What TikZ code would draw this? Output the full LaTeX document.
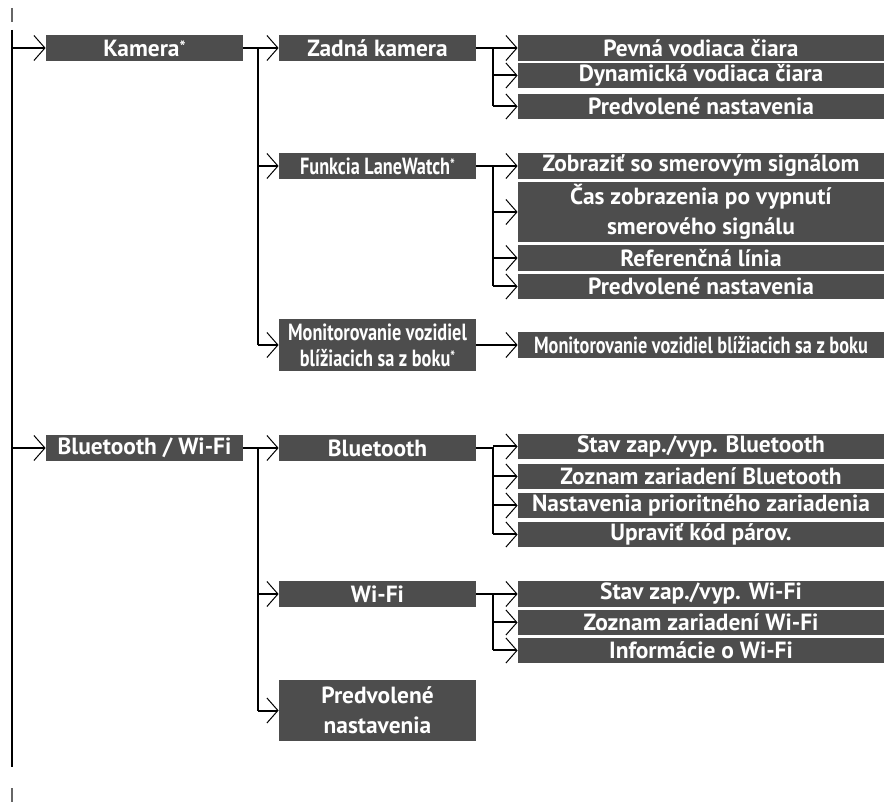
\documentclass[tikz,border=0pt]{standalone}
\usepackage{fontspec}
\setmainfont{PT Sans}
\newfontfamily\narrowsf[FakeStretch=0.78]{PT Sans}
\usetikzlibrary{arrows.meta}
\definecolor{boxgray}{HTML}{4D4D4D}
\newcommand\starmark{\raisebox{0.3ex}{\fontsize{8}{8}\selectfont*}}

\begin{document}
\begin{tikzpicture}[x=0.5pt, y=-0.5pt,
  font=\bfseries\fontsize{11.7}{15}\selectfont,
  menu/.style={fill=boxgray, text=white, inner sep=0pt, align=center},
  item/.style={menu, minimum width=98.5pt, minimum height=13pt},
  leaf/.style={menu, minimum width=183pt, minimum height=12.5pt},
  narrow/.style={font=\narrowsf\bfseries\fontsize{11.7}{13}\selectfont},
  wire/.style={line width=1pt},
  arr/.style={wire, -{Straight Barb[length=5.5pt, width=12.5pt, line width=0.5pt]}}]
  \useasboundingbox (0,0) rectangle (885,802);

  % first level
  \node[item] (kamera) at (144.5,48) {Kamera\starmark};
  \node[item] (btwifi) at (144.5,448) {Bluetooth / Wi-Fi};

  % second level
  \node[item] (zadna) at (377.5,48) {Zadná kamera};
  \node[item, narrow] (lanew) at (377.5,166) {Funkcia LaneWatch\starmark};
  \node[item, narrow, minimum height=26pt] (monitor) at (377.5,345) {Monitorovanie vozidiel\\blížiacich sa z boku\starmark};
  \node[item] (bt) at (377.5,448) {Bluetooth};
  \node[item] (wifi) at (377.5,594) {Wi-Fi};
  \node[item, minimum height=30.5pt] (preset) at (377.5,710.5) {Predvolené\\nastavenia};

  % third level
  \node[leaf, minimum height=13pt] (pevna) at (701,48) {Pevná vodiaca čiara};
  \node[leaf] (dynam) at (701,75.5) {Dynamická vodiaca čiara};
  \node[leaf] (camdef) at (701,106.5) {Predvolené nastavenia};
  \node[leaf, minimum height=13pt] (signal) at (701,166) {Zobraziť so smerovým signálom};
  \node[leaf, minimum height=30pt] (dtime) at (701,212) {Čas zobrazenia po vypnutí\\smerového signálu};
  \node[leaf, minimum height=13pt] (refline) at (701,258) {Referenčná línia};
  \node[leaf] (lwdef) at (701,286.5) {Predvolené nastavenia};
  \node[leaf, narrow, minimum height=13pt] (sidemon) at (701,345) {Monitorovanie vozidiel blížiacich sa z boku};
  \node[leaf] (btstate) at (701,446.5) {Stav zap./vyp. Bluetooth};
  \node[leaf] (btlist) at (701,476.5) {Zoznam zariadení Bluetooth};
  \node[leaf] (btprio) at (701,505.5) {Nastavenia prioritného zariadenia};
  \node[leaf] (btpair) at (701,534.5) {Upraviť kód párov.};
  \node[leaf, minimum height=13pt] (wfstate) at (701,594) {Stav zap./vyp. Wi-Fi};
  \node[leaf] (wflist) at (701,622.5) {Zoznam zariadení Wi-Fi};
  \node[leaf] (wfinfo) at (701,650.5) {Informácie o Wi-Fi};

  % trunk
  \coordinate (tickA) at (12,8);
  \coordinate (tickB) at (12,22);
  \coordinate (trunk) at (12,30);
  \coordinate (trunkend) at (12,767);
  \coordinate (tickC) at (12,788);
  \coordinate (tickD) at (12,802);
  \draw[wire, black!60] (tickA) -- (tickB);
  \draw[wire, black!60] (tickC) -- (tickD);
  \draw[wire] (trunk) -- (trunkend);
  \foreach \n in {kamera,btwifi}
    \draw[arr] (trunk |- \n.west) -- (\n.west);

  % forks
  \coordinate (forkcam) at (258,48);
  \coordinate (forkbt) at (258,448);
  \coordinate (forkzad) at (493,48);
  \coordinate (forklw) at (493,166);
  \coordinate (forkmon) at (493,345);
  \coordinate (forkblue) at (493,448);
  \coordinate (forkwifi) at (493,594);
  \draw[wire] (kamera.east) -- (forkcam) -- (forkcam |- monitor.west);
  \draw[wire] (btwifi.east) -- (forkbt) -- (forkbt |- preset.west);
  \draw[wire] (zadna.east) -- (forkzad) -- (forkzad |- camdef.west);
  \draw[wire] (lanew.east) -- (forklw) -- (forklw |- lwdef.west);
  \draw[wire] (monitor.east) -- (forkmon);
  \draw[wire] (bt.east) -- (forkblue) -- (forkblue |- btpair.west);
  \draw[wire] (wifi.east) -- (forkwifi) -- (forkwifi |- wfinfo.west);
  \foreach \n in {zadna,lanew,monitor}
    \draw[arr] (forkcam |- \n.west) -- (\n.west);
  \foreach \n in {bt,wifi,preset}
    \draw[arr] (forkbt |- \n.west) -- (\n.west);
  \foreach \n in {pevna,dynam,camdef}
    \draw[arr] (forkzad |- \n.west) -- (\n.west);
  \foreach \n in {signal,dtime,refline,lwdef}
    \draw[arr] (forklw |- \n.west) -- (\n.west);
  \draw[arr] (forkmon) -- (sidemon.west);
  \foreach \n in {btstate,btlist,btprio,btpair}
    \draw[arr] (forkblue |- \n.west) -- (\n.west);
  \foreach \n in {wfstate,wflist,wfinfo}
    \draw[arr] (forkwifi |- \n.west) -- (\n.west);
\end{tikzpicture}
\end{document}
